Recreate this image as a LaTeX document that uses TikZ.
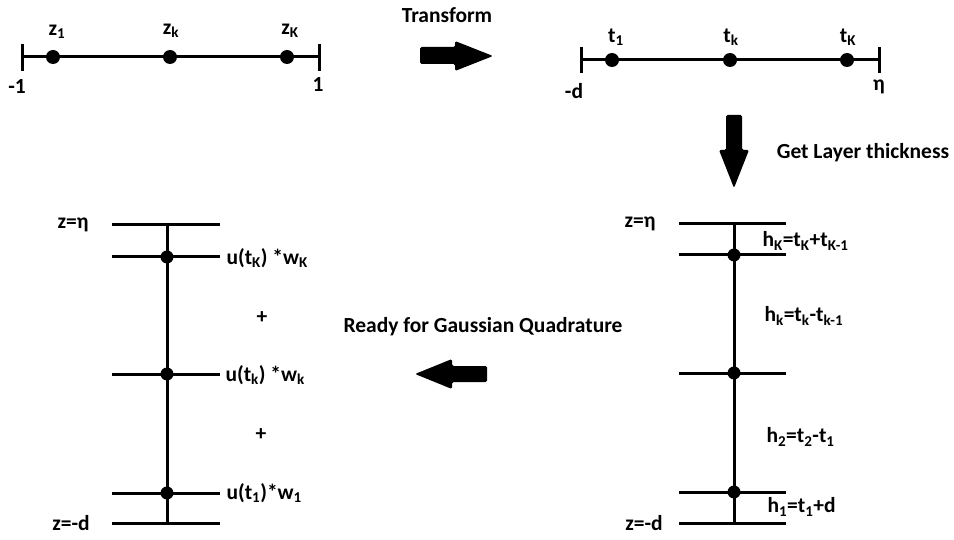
\documentclass[tikz,border=0pt]{standalone}
\usepackage{fontspec}
\setmainfont{Carlito}
\usetikzlibrary{calc}

\begin{document}
\begin{tikzpicture}[x=1pt, y=-1pt, line width=3pt,
	every node/.style={font=\bfseries\fontsize{21.5}{25}\selectfont, inner sep=0pt},
	dot/.style={circle, fill, minimum size=14pt},
	bigarrow/.style={fill, rounded corners=1.5pt}]
	\useasboundingbox (0,0) rectangle (954,540);
	% interval [-1,1]
	\coordinate (zl) at (22,57);
	\coordinate (zr) at (319,57);
	\draw (zl) -- (zr);
	\draw ([yshift=13pt]zl) -- ([yshift=-14pt]zl);
	\draw ([yshift=13pt]zr) -- ([yshift=-14pt]zr);
	\foreach \x/\n in {53/zone,170/zk,287/zK} {
		\node[dot] (\n) at (\x,57) {};
	}
	\node (lzone) at (57,32) {z\textsubscript{1}};
	\node (lzk) at (171,31) {z\textsubscript{k}};
	\node (lzK) at (290,31) {z\textsubscript{K}};
	\node (lmone) at (17,87) {-1};
	\node (lpone) at (318,85) {1};
	% transform arrow
	\fill[bigarrow] (420,47) -- (455,47) -- (455,41) -- (493,56) -- (455,71) -- (455,64) -- (420,64) -- cycle;
	\node (transform) at (447,15) {Transform};
	% interval [-d,eta]
	\coordinate (tl) at (581,60);
	\coordinate (tr) at (879,60);
	\draw (tl) -- (tr);
	\draw ([yshift=13pt]tl) -- ([yshift=-13pt]tl);
	\draw ([yshift=13pt]tr) -- ([yshift=-13pt]tr);
	\foreach \x/\n in {612/tone,730/tk,847/tK} {
		\node[dot] (\n) at (\x,60) {};
	}
	\node (ltone) at (616,37) {t\textsubscript{1}};
	\node (ltk) at (731,37) {t\textsubscript{k}};
	\node (ltK) at (848,37) {t\textsubscript{K}};
	\node (lmd) at (574,91) {-d};
	\node (leta) at (879,87) {η};
	% layer arrow
	\fill[bigarrow] (726,115) -- (742,115) -- (742,150) -- (749,150) -- (734,188) -- (719,150) -- (726,150) -- cycle;
	\node (layer) at (863,153) {Get Layer thickness};
	% layers
	\coordinate (Rtop) at (734,224);
	\coordinate (Rbot) at (734,523);
	\draw (Rtop) -- (Rbot);
	\foreach \y/\n in {224/top,255/K,373/k,492/one,523/bot} {
		\coordinate (R\n w) at (679,\y);
		\coordinate (R\n e) at (786,\y);
		\draw (R\n w) -- (R\n e);
	}
	\foreach \n in {K,k,one} {
		\node[dot, minimum size=13pt] (Rd\n) at (Rtop |- R\n w) {};
	}
	\node (Reta) at (640,224) {z=η};
	\node (Rmd) at (644,523) {z=-d};
	\node[anchor=west] (hK) at (761,241) {h\textsubscript{K}=t\textsubscript{K}+t\textsubscript{K-1}};
	\node[anchor=west] (hk) at (763,316) {h\textsubscript{k}=t\textsubscript{k}-t\textsubscript{k-1}};
	\node[anchor=west] (htwo) at (765,437) {h\textsubscript{2}=t\textsubscript{2}-t\textsubscript{1}};
	\node[anchor=west] (hone) at (766,507) {h\textsubscript{1}=t\textsubscript{1}+d};
	% quadrature arrow
	\fill[bigarrow] (487,366) -- (452,366) -- (452,359) -- (415,374) -- (452,389) -- (452,382) -- (487,382) -- cycle;
	\node (ready) at (483,327) {Ready for Gaussian Quadrature};
	% quadrature points
	\coordinate (Ltop) at (167,225);
	\coordinate (Lbot) at (167,523);
	\draw (Ltop) -- (Lbot);
	\foreach \y/\n in {225/top,257/K,374/k,493/one,523/bot} {
		\coordinate (L\n w) at (112,\y);
		\coordinate (L\n e) at (220,\y);
		\draw (L\n w) -- (L\n e);
	}
	\foreach \n in {K,k,one} {
		\node[dot, minimum size=13pt] (Ld\n) at (Ltop |- L\n w) {};
	}
	\node (Leta) at (73,225) {z=η};
	\node (Lmd) at (71,523) {z=-d};
	\node[anchor=west] (uK) at (225,258) {u(t\textsubscript{K}) *w\textsubscript{K}};
	\node (plusone) at (262,318) {+};
	\node[anchor=west] (uk) at (224,375) {u(t\textsubscript{k}) *w\textsubscript{k}};
	\node (plustwo) at (261,435) {+};
	\node[anchor=west] (uone) at (225,493) {u(t\textsubscript{1})*w\textsubscript{1}};
\end{tikzpicture}
\end{document}
